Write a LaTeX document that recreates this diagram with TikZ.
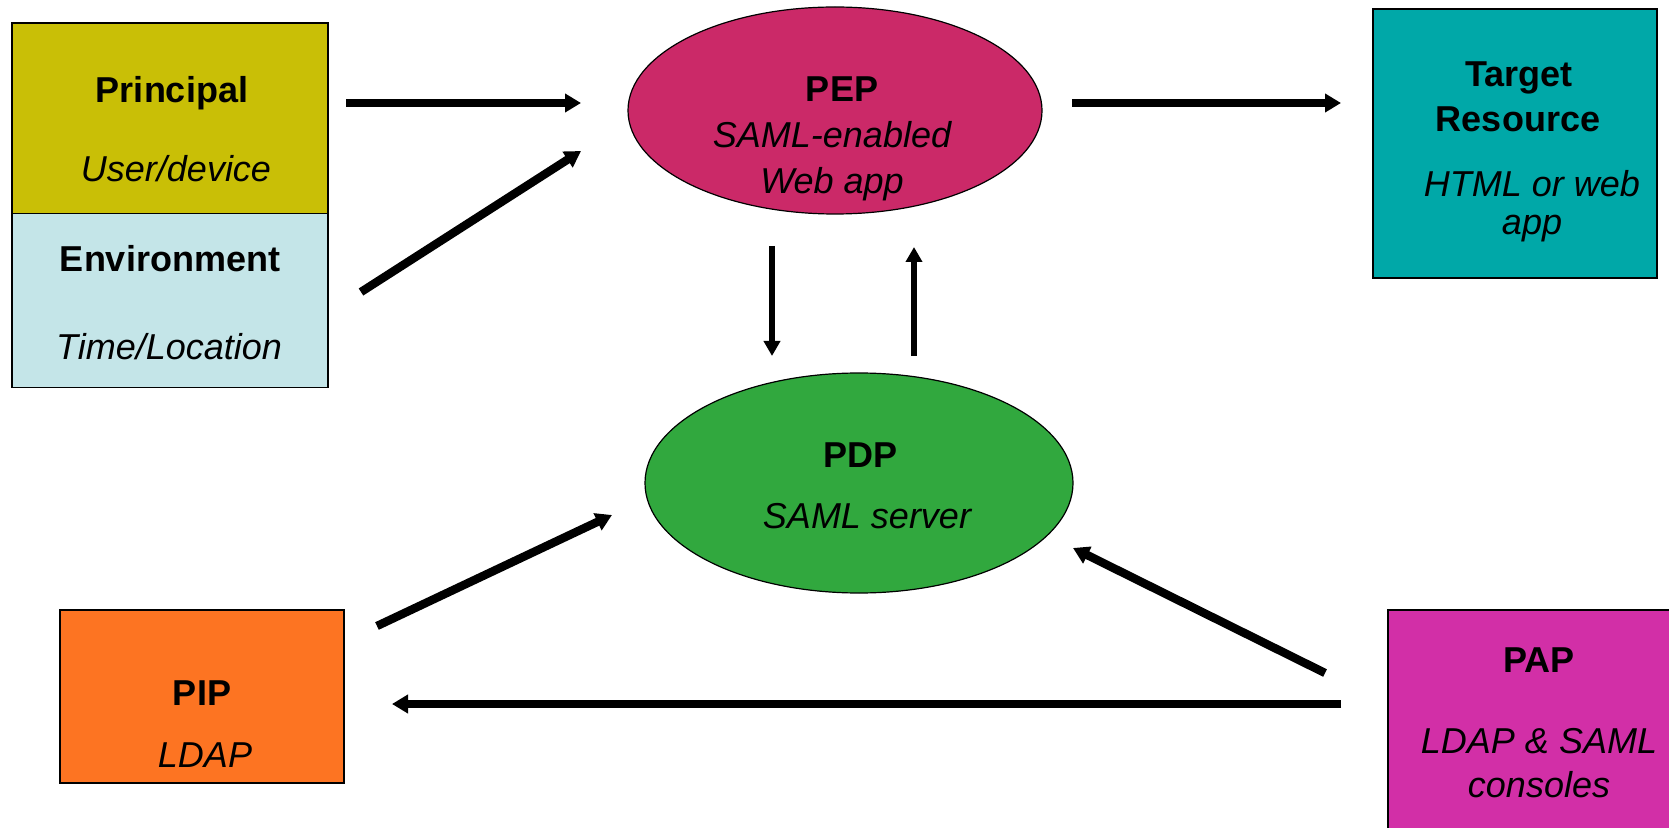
\documentclass[tikz,border=0pt]{standalone}
\usepackage{fontspec}
\setmainfont{Liberation Sans}
\usetikzlibrary{arrows.meta,shapes.geometric}
\definecolor{principalfill}{RGB}{201,191,6}
\definecolor{envfill}{RGB}{196,229,232}
\definecolor{pepfill}{RGB}{203,41,104}
\definecolor{targetfill}{RGB}{0,168,168}
\definecolor{pdpfill}{RGB}{49,168,62}
\definecolor{pipfill}{RGB}{253,116,34}
\definecolor{papfill}{RGB}{210,47,167}
\begin{document}
\begin{tikzpicture}[x=0.5pt,y=-0.5pt,
  box/.style={draw,line width=0.7pt,inner sep=0pt},
  oval/.style={ellipse,draw,line width=0.6pt,inner sep=0pt},
  title/.style={anchor=base,font=\fontsize{18}{22}\selectfont\bfseries},
  sub/.style={anchor=base,font=\fontsize{18}{22}\selectfont\itshape},
  bigarrow/.style={line width=4.2pt,-{Triangle[length=8pt,width=9pt]}},
  smallarrow/.style={line width=3.2pt,-{Triangle[length=7.5pt,width=8pt]}}]
\useasboundingbox (0,0) rectangle (1669,828);
% Draw the boxes
\node[box,fill=principalfill,minimum width=158pt,minimum height=95.5pt] (principal) at (170,118.5) {};
\node[box,fill=envfill,minimum width=158pt,minimum height=87pt] (environment) at (170,300.5) {};
\node[box,fill=targetfill,minimum width=142pt,minimum height=134.5pt] (target) at (1515,143.5) {};
\node[box,fill=pipfill,minimum width=142pt,minimum height=86.5pt] (pip) at (202,696.5) {};
\node[box,fill=papfill,minimum width=145pt,minimum height=115pt] (pap) at (1533,725) {};
% Draw the ellipses
\node[oval,fill=pepfill,minimum width=207pt,minimum height=103.5pt] (pep) at (835,110.5) {};
\node[oval,fill=pdpfill,minimum width=214pt,minimum height=110pt] (pdp) at (859,483) {};
% Draw the labels
\node[title] (principal-t) at (172,103) {Principal};
\node[sub] (principal-s) at (176,182) {User/device};
\node[title] (environment-t) at (170,272) {Environment};
\node[sub] (environment-s) at (169,360) {Time/Location};
\node[title] (pep-t) at (842,102) {PEP};
\node[sub] (pep-s1) at (832,148) {SAML-enabled};
\node[sub] (pep-s2) at (832,194) {Web app};
\node[title] (target-t1) at (1519,87) {Target};
\node[title] (target-t2) at (1518,132) {Resource};
\node[sub] (target-s1) at (1532,197) {HTML or web};
\node[sub] (target-s2) at (1532,235) {app};
\node[title] (pdp-t) at (860,467) {PDP};
\node[sub] (pdp-s) at (867,528) {SAML server};
\node[title] (pip-t) at (202,705) {PIP};
\node[sub] (pip-s) at (205,767) {LDAP};
\node[title] (pap-t) at (1539,672) {PAP};
\node[sub] (pap-s1) at (1539,753) {LDAP \& SAML};
\node[sub] (pap-s2) at (1539,797) {consoles};
% Arrow end points
\coordinate (a1) at (346,103);  \coordinate (b1) at (581,103);
\coordinate (a2) at (361,292);  \coordinate (b2) at (581,151);
\coordinate (a3) at (1072,103); \coordinate (b3) at (1341,103);
\coordinate (a4) at (772,246);  \coordinate (b4) at (772,356);
\coordinate (a5) at (914,356);  \coordinate (b5) at (914,247);
\coordinate (a6) at (377,626);  \coordinate (b6) at (612,515);
\coordinate (a7) at (1325,673); \coordinate (b7) at (1073,548);
\coordinate (a8) at (1341,704); \coordinate (b8) at (392,704);
% Draw the arrows
\foreach \i in {1,2,3,6,7,8}
  \draw[bigarrow] (a\i) -- (b\i);
\foreach \i in {4,5}
  \draw[smallarrow] (a\i) -- (b\i);
\end{tikzpicture}
\end{document}
